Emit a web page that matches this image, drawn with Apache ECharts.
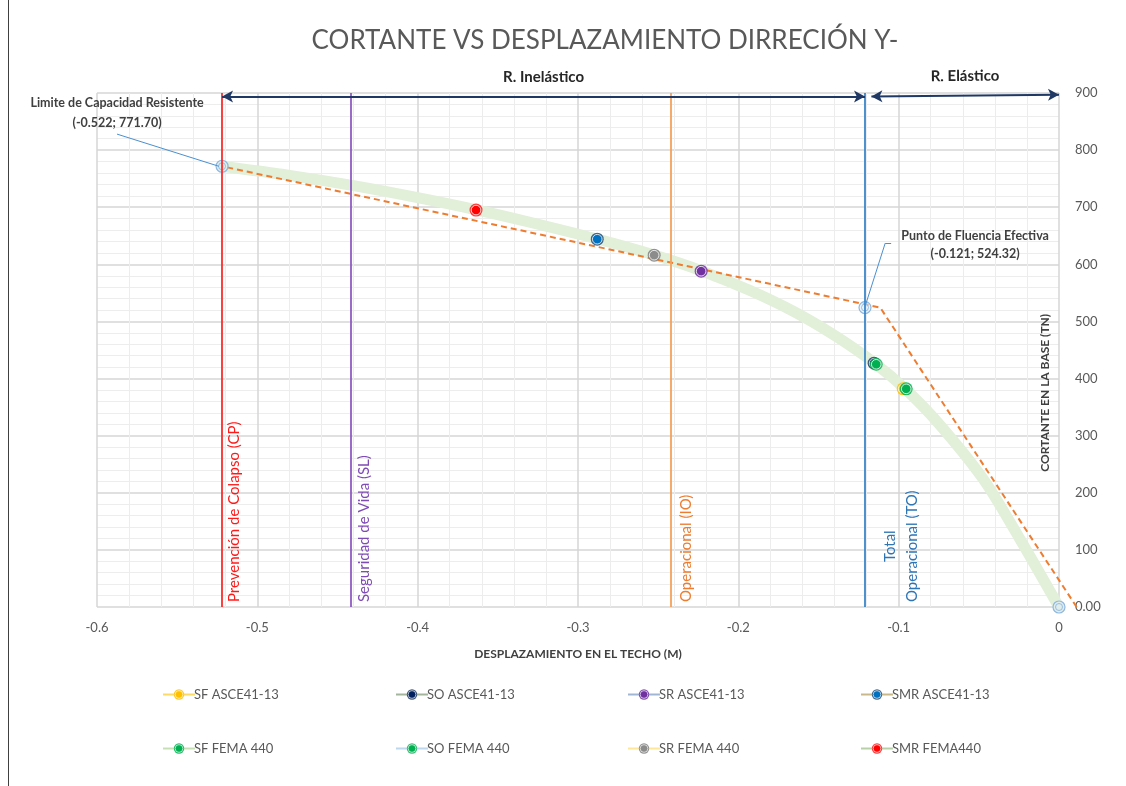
<!DOCTYPE html>
<html>
<head>
<meta charset="utf-8">
<script src="https://cdn.jsdelivr.net/npm/echarts@6/dist/echarts.min.js"></script>
<style>
  html, body { margin: 0; padding: 0; background: #ffffff; }
  #chart { width: 1126px; height: 786px; }
</style>
</head>
<body>
<div id="chart"></div>
<script>
// Curva de capacidad (pushover): desplazamiento en el techo (m) vs cortante en la base (tn)
const capacityX = [-0.522, -0.48, -0.44, -0.40, -0.364, -0.33, -0.288, -0.2525, -0.223, -0.193, -0.165, -0.14, -0.115, -0.096, -0.075, -0.047, -0.025, 0];
const capacityY = [771.7, 755.7, 737.7, 716.7, 695.8, 673.7, 644.3, 616.3, 588.7, 554.5, 516.7, 475.5, 427, 382, 321, 223, 122, 0];

// Idealización bilineal
const bilinearX = [0.011, -0.1115, -0.522];
const bilinearY = [0, 524.32, 771.70];

// Puntos notables: límite de capacidad, fluencia efectiva, origen
const keyX = [-0.522, -0.121, 0];
const keyY = [771.70, 524.32, 0];

// Puntos de desempeño
const perfNames = ['SF ASCE41-13', 'SO ASCE41-13', 'SR ASCE41-13', 'SMR ASCE41-13',
                   'SF FEMA 440', 'SO FEMA 440', 'SR FEMA 440', 'SMR FEMA440'];
const perfX = [-0.0972, -0.1153, -0.2232, -0.288, -0.0953, -0.114, -0.2525, -0.3636];
const perfY = [382, 427, 588, 644, 382, 425, 616, 695];

// Niveles de desempeño (líneas verticales)
const levelNames = ['Prevención de Colapso (CP)', 'Seguridad de Vida (SL)', 'Operacional (IO)', 'Operacional (TO)'];
const levelX = [-0.522, -0.442, -0.242, -0.121];

// Ejes
const xMin = -0.6, xMax = 0, xStep = 0.1;
const yMin = 0, yMax = 900, yStep = 100;

const FONT = 'Lato, "Open Sans", sans-serif';
const TEXT = '#595959';

// Estilos de marcadores y líneas de leyenda
const perfOuter = ['#ffc000', '#1f3864', '#7030a0', '#1f4e79', '#00b050', '#13b35a', '#7f7f7f', '#ff1a1a'];
const perfInner = ['#ffc000', '#002060', '#7030a0', '#0070c0', '#00b050', '#00b050', '#8c8c8c', '#ff0000'];
const perfLine  = ['#ffd966', '#a3b59a', '#9fb6d4', '#c9b88a', '#c6e0b4', '#bdd7ee', '#ffe699', '#b7d0a8'];
const levelColor = ['#ff2b2b', '#8f5cc2', '#f4a15d', '#3a87c8'];
const levelText  = ['#ff1a1a', '#7f4bb5', '#ed7d31', '#2e75b6'];

function svgSymbol(body) {
  const svg = '<svg xmlns="http://www.w3.org/2000/svg" width="28" height="28" viewBox="0 0 28 28">' + body + '</svg>';
  return 'image://data:image/svg+xml;charset=utf-8,' + encodeURIComponent(svg);
}
function dotSymbol(outer, inner) {
  return svgSymbol('<circle cx="14" cy="14" r="13" fill="' + outer + '" opacity="0.85"/>' +
                   '<circle cx="14" cy="14" r="9.6" fill="' + inner + '" stroke="#ffffff" stroke-width="1.6"/>');
}
const ringSymbol = svgSymbol('<circle cx="14" cy="14" r="12" fill="rgba(222,235,247,0.55)" stroke="#8fb8e0" stroke-width="2.4"/>' +
                             '<circle cx="14" cy="14" r="7" fill="none" stroke="#8fb8e0" stroke-width="1.8"/>');

const zip = (xs, ys) => xs.map((x, i) => [x, ys[i]]);

const chart = echarts.init(document.getElementById('chart'));

const seriesList = [];

// Líneas verticales de niveles, flechas de rangos y líneas guía de anotaciones
seriesList.push({
  type: 'line',
  name: '_guides',
  data: [],
  z: 1,
  silent: true,
  markLine: {
    silent: true,
    animation: false,
    label: { show: false },
    data: [
      ...levelX.map((x, i) => [
        { coord: [x, yMin], symbol: 'none', lineStyle: { color: levelColor[i], width: 1.8, type: 'solid' } },
        { coord: [x, yMax], symbol: 'none' }
      ]),
      [
        { coord: [keyX[0], 894], symbol: 'arrow', symbolSize: [9, 11], lineStyle: { color: '#1f3864', width: 2, type: 'solid' },
          label: { show: true, position: 'middle', formatter: 'R. Inelástico', color: '#262626', fontFamily: FONT, fontWeight: 'bold', fontSize: 15, distance: 12 } },
        { coord: [keyX[1], 894], symbol: 'arrow', symbolSize: [9, 11] }
      ],
      [
        { coord: [-0.117, 894], symbol: 'arrow', symbolSize: [9, 11], lineStyle: { color: '#1f3864', width: 2, type: 'solid' },
          label: { show: true, position: 'middle', formatter: 'R. Elástico', color: '#262626', fontFamily: FONT, fontWeight: 'bold', fontSize: 15, distance: 12 } },
        { coord: [xMax, 897], symbol: 'arrow', symbolSize: [9, 11] }
      ],
      [
        { coord: [-0.5875, 828], symbol: 'none', lineStyle: { color: '#4a90d0', width: 1, type: 'solid' } },
        { coord: [keyX[0] - 0.002, keyY[0]], symbol: 'none' }
      ],
      [
        { coord: [-0.1047, 637], symbol: 'none', lineStyle: { color: '#4a90d0', width: 1, type: 'solid' } },
        { coord: [-0.1084, 637], symbol: 'none' }
      ],
      [
        { coord: [-0.1084, 637], symbol: 'none', lineStyle: { color: '#4a90d0', width: 1, type: 'solid' } },
        { coord: [keyX[1] + 0.0005, keyY[1] + 6], symbol: 'none' }
      ]
    ]
  }
});

// Curva de capacidad
seriesList.push({
  type: 'line',
  name: '_capacity',
  data: zip(capacityX, capacityY),
  smooth: 0.3,
  showSymbol: false,
  symbol: 'none',
  z: 2,
  silent: true,
  lineStyle: { color: '#e2efd9', width: 11, cap: 'round', join: 'round' }
});

// Idealización bilineal (se prolonga un poco más allá del eje vertical)
seriesList.push({
  type: 'custom',
  name: '_bilinear',
  data: zip(bilinearX, bilinearY),
  encode: { x: 0, y: 1 },
  clip: false,
  z: 3,
  silent: true,
  renderItem: (params, api) => {
    if (params.dataIndex !== 0) return null;
    const pts = bilinearX.map((x, i) => api.coord([x, bilinearY[i]]));
    return {
      type: 'polyline',
      shape: { points: pts },
      style: { stroke: '#ed7d31', lineWidth: 2, lineDash: [6, 4], fill: null }
    };
  }
});

// Puntos notables
seriesList.push({
  type: 'line',
  name: '_key',
  data: zip(keyX, keyY),
  lineStyle: { width: 0, opacity: 0 },
  symbol: ringSymbol,
  symbolSize: 14,
  showAllSymbol: true,
  clip: false,
  z: 4,
  silent: true
});

// Puntos de desempeño
perfNames.forEach((name, i) => {
  seriesList.push({
    type: 'line',
    name: name,
    data: [[perfX[i], perfY[i]]],
    symbol: dotSymbol(perfOuter[i], perfInner[i]),
    symbolSize: 14,
    showSymbol: true,
    z: 5,
    lineStyle: { color: perfLine[i], width: 3 },
    itemStyle: { color: perfInner[i] }
  });
});

// Leyenda en 4 columnas x 2 filas
const legendLeft = [157, 390, 622, 855];
const legends = legendLeft.map((left, c) => ({
  orient: 'vertical',
  left: left,
  top: 683,
  itemWidth: 32,
  itemHeight: 14,
  itemGap: 41,
  selectedMode: false,
  data: [perfNames[c], perfNames[c + 4]],
  textStyle: { color: TEXT, fontFamily: FONT, fontSize: 13, padding: [0, 0, 0, -6] }
}));

const option = {
  animation: false,
  backgroundColor: '#ffffff',
  title: {
    text: 'CORTANTE VS DESPLAZAMIENTO DIRRECIÓN Y-',
    left: 600,
    textAlign: 'center',
    top: 23,
    textStyle: { color: TEXT, fontFamily: FONT, fontWeight: 'normal', fontSize: 26 }
  },
  legend: legends,
  grid: { left: 97, right: 67, top: 93, bottom: 179, containLabel: false },
  xAxis: {
    type: 'value',
    min: xMin, max: xMax, interval: xStep,
    name: 'DESPLAZAMIENTO EN EL TECHO (M)',
    nameLocation: 'middle',
    nameGap: 41,
    nameTextStyle: { color: '#404040', fontFamily: FONT, fontWeight: 'bold', fontSize: 12 },
    axisLine: { show: false },
    axisTick: { show: false },
    axisLabel: {
      color: TEXT, fontFamily: FONT, fontSize: 13, margin: 14,
      formatter: v => (Math.abs(v) < 1e-9 ? '0' : v.toFixed(1))
    },
    splitLine: { show: true, lineStyle: { color: '#d6d6d6', width: 1.5 } },
    minorTick: { show: false, splitNumber: 5 },
    minorSplitLine: { show: true, lineStyle: { color: '#ededed', width: 1 } }
  },
  yAxis: {
    type: 'value',
    position: 'right',
    min: yMin, max: yMax, interval: yStep,
    axisLine: { show: false },
    axisTick: { show: false },
    axisLabel: {
      color: TEXT, fontFamily: FONT, fontSize: 13, margin: 16, align: 'left',
      formatter: v => (v === 0 ? '0.00' : String(v))
    },
    splitLine: { show: true, lineStyle: { color: '#d6d6d6', width: 1.5 } },
    minorTick: { show: false, splitNumber: 5 },
    minorSplitLine: { show: true, lineStyle: { color: '#ededed', width: 1 } }
  },
  series: seriesList
};

chart.setOption(option);

// Textos posicionados desde coordenadas de datos
const toPx = (x, y) => chart.convertToPixel({ gridIndex: 0 }, [x, y]);
const measureText = (() => {
  const ctx = document.createElement('canvas').getContext('2d');
  return (text, size, weight) => { ctx.font = (weight || 'normal') + ' ' + size + 'px ' + FONT; return ctx.measureText(text).width; };
})();

const graphics = [];
const basePx = toPx(xMin, yMin);
const labelBottom = basePx[1] - 5;
const levelOffset = [12, 14, 15, 47];

levelX.forEach((x, i) => {
  const p = toPx(x, yMin);
  graphics.push({
    type: 'text',
    x: p[0] + levelOffset[i],
    y: labelBottom,
    rotation: Math.PI / 2,
    style: { text: levelNames[i], fill: levelText[i], font: 'normal 15px ' + FONT, align: 'left', verticalAlign: 'middle' },
    silent: true
  });
});
// Primera línea del rótulo TO
{
  const p = toPx(levelX[3], yMin);
  const w = measureText(levelNames[3], 15);
  graphics.push({
    type: 'text',
    x: p[0] + 25,
    y: labelBottom - w / 2,
    rotation: Math.PI / 2,
    style: { text: 'Total', fill: levelText[3], font: 'normal 15px ' + FONT, align: 'center', verticalAlign: 'middle' },
    silent: true
  });
}

// Anotaciones de puntos notables
const fmtPoint = (x, y) => '(' + x.toFixed(3) + '; ' + y.toFixed(2) + ')';
{
  const a = toPx(-0.5875, 828);
  graphics.push({
    type: 'text', x: a[0], y: a[1] - 21,
    style: { text: 'Limite de Capacidad Resistente\n' + fmtPoint(keyX[0], keyY[0]), fill: '#404040',
             font: 'bold 12.5px ' + FONT, align: 'center', verticalAlign: 'middle', lineHeight: 20 },
    silent: true
  });
  const b = toPx(-0.1047, 637);
  graphics.push({
    type: 'text', x: b[0] + 84, y: b[1] + 2,
    style: { text: 'Punto de Fluencia Efectiva\n' + fmtPoint(keyX[1], keyY[1]), fill: '#404040',
             font: 'bold 12.5px ' + FONT, align: 'center', verticalAlign: 'middle', lineHeight: 18 },
    silent: true
  });
}

// Título del eje vertical, dentro del área de trazado
{
  const c = toPx(xMax, 375);
  graphics.push({
    type: 'text', x: c[0] - 14, y: c[1],
    rotation: Math.PI / 2,
    style: { text: 'CORTANTE EN LA BASE (TN)', fill: '#404040', font: 'bold 12px ' + FONT, align: 'center', verticalAlign: 'middle' },
    silent: true
  });
}

// Borde izquierdo del área del gráfico
graphics.push({
  type: 'line', shape: { x1: 8.5, y1: 0, x2: 8.5, y2: 786 },
  style: { stroke: '#404040', lineWidth: 1 }, silent: true
});

chart.setOption({ graphic: graphics });
</script>
</body>
</html>
